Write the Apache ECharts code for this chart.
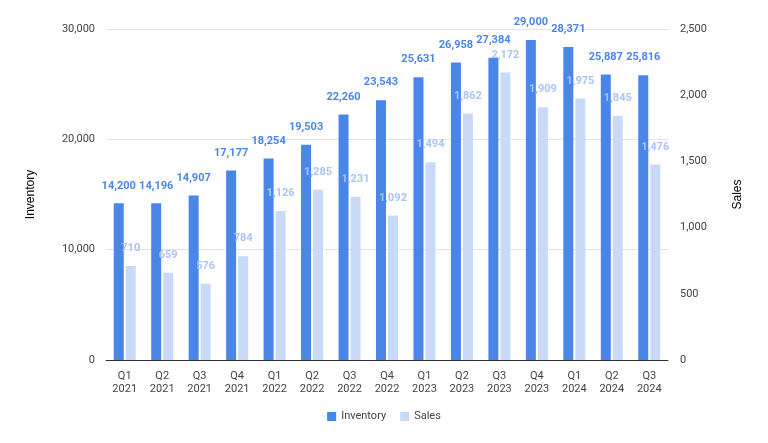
<!DOCTYPE html>
<html><head><meta charset="utf-8">
<script src="https://cdn.jsdelivr.net/npm/echarts@6/dist/echarts.min.js"></script>
<style>html,body{margin:0;padding:0;background:#fff}#c{width:768px;height:443px}</style>
</head><body><div id="c"></div>
<script>
const categories = ["Q1\n2021","Q2\n2021","Q3\n2021","Q4\n2021","Q1\n2022","Q2\n2022","Q3\n2022","Q4\n2022","Q1\n2023","Q2\n2023","Q3\n2023","Q4\n2023","Q1\n2024","Q2\n2024","Q3\n2024"];
const inventory = [14200,14196,14907,17177,18254,19503,22260,23543,25631,26958,27384,29000,28371,25887,25816];
const sales = [710,659,576,784,1126,1285,1231,1092,1494,1862,2172,1909,1975,1845,1476];

const fmt = v => v.toLocaleString('en-US');
const chart = echarts.init(document.getElementById('c'), null, {renderer:'canvas'});
chart.setOption({
  animation:false,
  textStyle:{fontFamily:'Roboto, Arial, sans-serif'},
  grid:{left:106, right:100, top:29, bottom:83},
  legend:{
    bottom:16, left:'center', itemWidth:9, itemHeight:9, itemGap:14,
    icon:'rect', textStyle:{color:'#444', fontSize:11, fontFamily:'Roboto, Arial, sans-serif'},
    data:['Inventory','Sales']
  },
  xAxis:{
    type:'category', data:categories,
    axisLine:{lineStyle:{color:'#333'}},
    axisTick:{show:false},
    axisLabel:{color:'#444', fontSize:11, lineHeight:13, margin:10, interval:0}
  },
  yAxis:[
    {type:'value', min:0, max:30000, interval:10000, name:'Inventory', nameLocation:'middle', nameGap:69,
     nameTextStyle:{color:'#000', fontSize:12, fontFamily:'Liberation Sans, Arial, sans-serif'},
     axisLabel:{color:'#444', fontSize:11, formatter:fmt, margin:11},
     splitLine:{lineStyle:{color:'#e3e3e3'}}, axisLine:{show:false}, axisTick:{show:false}},
    {type:'value', min:0, max:2500, interval:500, name:'Sales', nameLocation:'middle', nameGap:64,
     nameTextStyle:{color:'#000', fontSize:12, fontFamily:'Liberation Sans, Arial, sans-serif'},
     axisLabel:{color:'#444', fontSize:11, formatter:fmt, margin:12},
     splitLine:{show:false}, axisLine:{show:false}, axisTick:{show:false}}
  ],
  series:[
    {name:'Inventory', type:'bar', data:inventory, yAxisIndex:0, barWidth:10, barGap:'20%',
     itemStyle:{color:'#4a86e8'},
     label:{show:true, position:'top', distance:12, color:'#4a86e8', fontWeight:'bold', fontSize:11, formatter:p=>fmt(p.value)}},
    {name:'Sales', type:'bar', data:sales, yAxisIndex:1, barWidth:10,
     itemStyle:{color:'#c9daf8'},
     label:{show:true, position:'top', distance:12, color:'#aac5f5', fontWeight:'bold', fontSize:11, formatter:p=>fmt(p.value)}}
  ]
});
</script></body></html>
